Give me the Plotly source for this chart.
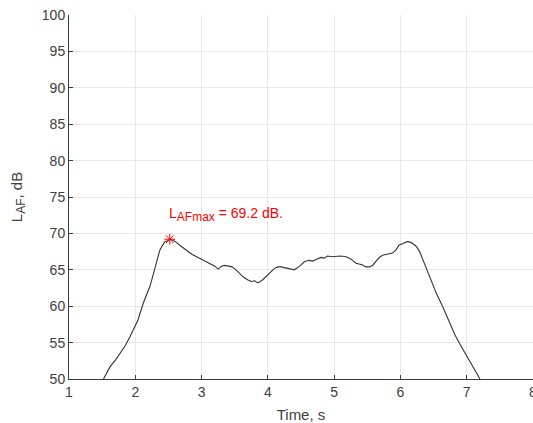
import plotly.graph_objects as go

time_s = [1.52, 1.62, 1.70, 1.77, 1.85, 1.92, 1.98, 2.04, 2.12, 2.17, 2.22, 2.26, 2.30, 2.37, 2.42, 2.45, 2.49, 2.52,
          2.56, 2.60, 2.68, 2.77, 2.86, 2.97, 3.05, 3.12, 3.20, 3.25, 3.30, 3.35, 3.40, 3.46, 3.52, 3.58, 3.63,
          3.70, 3.75, 3.80, 3.85, 3.92, 3.98, 4.04, 4.10, 4.15, 4.20, 4.30, 4.40, 4.48, 4.55, 4.62, 4.68, 4.73,
          4.80, 4.85, 4.90, 4.96, 5.03, 5.10, 5.18, 5.25, 5.33, 5.42, 5.48, 5.53, 5.58, 5.63, 5.68, 5.73, 5.80,
          5.88, 5.93, 5.98, 6.04, 6.11, 6.17, 6.24, 6.29, 6.34, 6.39, 6.44, 6.49, 6.54, 6.64, 6.72, 6.76, 6.82,
          6.89, 6.96, 7.04, 7.12, 7.20]
level_db = [50.0, 51.7, 52.6, 53.5, 54.6, 55.8, 56.9, 58.1, 60.4, 61.6, 62.7, 64.0, 65.4, 67.7, 68.5, 68.9, 69.0, 69.2,
            69.1, 68.9, 68.3, 67.7, 67.1, 66.6, 66.2, 65.9, 65.5, 65.1, 65.5, 65.6, 65.5, 65.4, 65.0, 64.5, 64.0,
            63.6, 63.4, 63.5, 63.2, 63.6, 64.1, 64.6, 65.2, 65.4, 65.4, 65.2, 65.0, 65.5, 66.1, 66.3, 66.2, 66.4,
            66.7, 66.6, 66.9, 66.8, 66.9, 66.9, 66.8, 66.5, 65.9, 65.7, 65.4, 65.4, 65.6, 66.1, 66.7, 67.0, 67.1,
            67.3, 67.7, 68.4, 68.6, 68.9, 68.7, 68.2, 67.5, 66.4, 65.2, 64.2, 63.1, 61.8, 59.9, 58.1, 57.2, 56.1,
            54.9, 53.8, 52.6, 51.4, 50.0]

peak_t = [2.52]
peak_db = [69.2]
peak_label = "L<sub><span style='font-size:12px'>AFmax</span></sub> = 69.2 dB."

x_ticks = [1, 2, 3, 4, 5, 6, 7, 8]
y_ticks = [50, 55, 60, 65, 70, 75, 80, 85, 90, 95, 100]

fig = go.Figure()
fig.add_trace(go.Scatter(x=time_s, y=level_db, mode="lines",
                         line=dict(color="#333333", width=1.1), showlegend=False))
fig.add_trace(go.Scatter(x=peak_t, y=peak_db, mode="markers",
                         marker=dict(symbol="asterisk-open", size=9, color="red",
                                     line=dict(color="red", width=1)), showlegend=False))
fig.add_annotation(x=peak_t[0], y=72.6, text=peak_label, showarrow=False,
                   xanchor="left", yanchor="middle", xshift=-3,
                   font=dict(color="red", size=14, family="Liberation Sans"))

axis_common = dict(showgrid=True, gridcolor="#e8e8e8", gridwidth=1,
                   showline=True, linecolor="#3a3a3a", linewidth=1,
                   ticks="inside", ticklen=4, tickcolor="#3a3a3a",
                   zeroline=False, automargin=False, ticklabeloverflow="allow",
                   tickfont=dict(size=14, color="#404040", family="Liberation Sans"))

fig.update_layout(
    width=533, height=423,
    margin=dict(l=69, r=0, t=15, b=44, autoexpand=False),
    plot_bgcolor="white", paper_bgcolor="white",
    font=dict(family="Liberation Sans", color="#404040"),
    xaxis=dict(range=[1, 8], tickvals=x_ticks,
               title=dict(text="Time, s", font=dict(size=15, color="#404040")),
               **axis_common),
    yaxis=dict(range=[50, 100], tickvals=y_ticks,
               title=dict(text="L<sub><span style='font-size:12px'>AF</span></sub>, dB",
                          font=dict(size=15, color="#404040")),
               **axis_common),
)

post = ("document.body.style.margin='0';document.body.style.padding='0';"
        "document.body.style.overflow='hidden';"
        "Plotly.relayout(document.getElementById('{plot_id}'), {width: 533, height: 423});")
fig.write_html("out.html", post_script=post, config={"displayModeBar": False})
